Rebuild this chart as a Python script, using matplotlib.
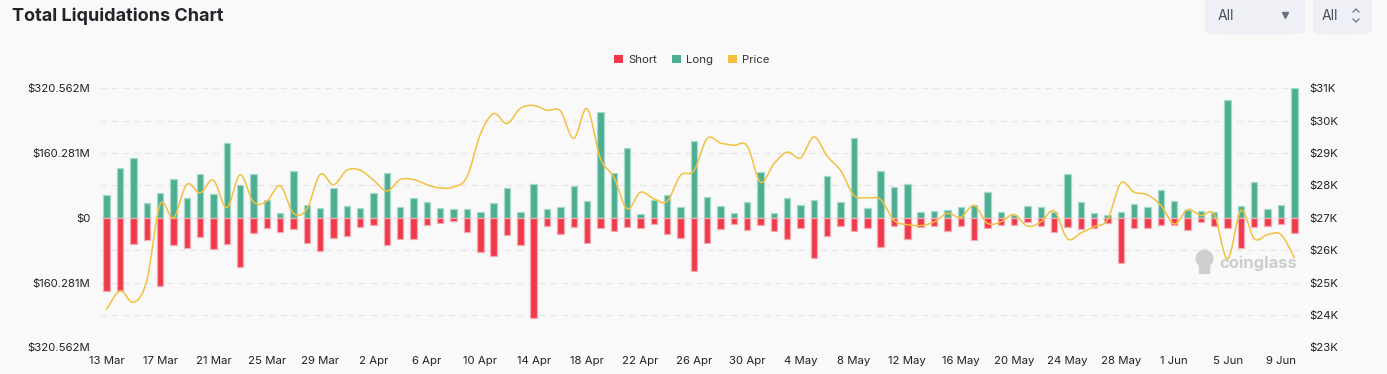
import numpy as np
import pandas as pd
import matplotlib

matplotlib.use("Agg")
import matplotlib.pyplot as plt
from matplotlib.patches import FancyBboxPatch, Patch
from matplotlib.lines import Line2D

plt.rcParams["font.family"] = ["Inter", "DejaVu Sans"]

# daily liquidations, 13 Mar -> 10 Jun (USD millions) and BTC price (USD thousands)
dates = pd.date_range("2023-03-13", "2023-06-10", freq="D")
long_m = [57, 123, 149, 37, 62, 95, 48, 109, 60, 184, 82, 109, 43, 13, 117,
          32, 24, 73, 30, 25, 61, 112, 26, 48, 40, 24, 21, 23, 15, 36,
          73, 14, 84, 22, 26, 79, 42, 262, 112, 173, 10, 43, 57, 26, 189,
          51, 28, 12, 39, 114, 12, 48, 31, 45, 104, 38, 197, 24, 117, 76,
          83, 15, 16, 20, 27, 32, 63, 15, 7, 29, 26, 15, 108, 40, 11,
          7, 14, 34, 26, 69, 41, 20, 17, 15, 292, 30, 88, 21, 31, 320.562]
short_m = [180, 180, 66, 55, 170, 68, 74, 48, 77, 65, 121, 38, 26, 35, 28,
           62, 81, 51, 45, 23, 18, 67, 52, 53, 17, 13, 8, 36, 85, 95,
           43, 68, 249, 20, 41, 23, 62, 26, 32, 23, 26, 16, 40, 50, 131,
           63, 27, 16, 29, 17, 32, 52, 25, 99, 44, 21, 32, 26, 72, 20,
           53, 22, 20, 32, 20, 55, 25, 18, 17, 11, 21, 36, 23, 27, 26,
           13, 111, 25, 26, 18, 18, 31, 10, 21, 25, 74, 23, 20, 15, 37]
price_k = [24.18, 24.75, 24.39, 25.05, 27.41, 26.99, 28.03, 27.77, 28.16, 27.31, 28.33, 27.49, 27.51, 27.99, 27.14,
           27.27, 28.34, 28.02, 28.47, 28.47, 28.16, 27.83, 28.18, 28.18, 28.02, 27.92, 27.95, 28.26, 29.58, 30.22,
           29.91, 30.38, 30.47, 30.32, 30.30, 29.45, 30.37, 28.83, 28.26, 27.28, 27.79, 27.59, 27.51, 28.31, 28.45,
           29.45, 29.31, 29.24, 29.22, 28.10, 28.67, 29.03, 28.85, 29.50, 28.90, 28.46, 27.69, 27.62, 27.56, 26.92,
           26.79, 26.76, 26.87, 27.14, 27.02, 27.38, 26.83, 26.87, 27.10, 26.74, 26.87, 27.21, 26.35, 26.53, 26.73,
           26.94, 28.07, 27.79, 27.71, 27.38, 26.81, 27.25, 27.07, 27.10, 25.73, 27.23, 26.35, 26.48, 26.48, 25.78]

SHORT = "#f03a4b"
LONG = "#4caf93"
PRICE = "#f4c03f"
BG = "#f9f9f9"

W, H = 1387, 374
YMAX = 320.562


def smooth(x, y, n=12):
    # cubic hermite through the daily points, only for drawing the curve
    x = np.asarray(x, float)
    y = np.asarray(y, float)
    m = np.gradient(y, x)
    xs, ys = [], []
    for i in range(len(x) - 1):
        t = np.linspace(0, 1, n, endpoint=False)
        h = x[i + 1] - x[i]
        h00 = 2 * t**3 - 3 * t**2 + 1
        h10 = t**3 - 2 * t**2 + t
        h01 = -2 * t**3 + 3 * t**2
        h11 = t**3 - t**2
        xs.append(x[i] + t * h)
        ys.append(h00 * y[i] + h10 * h * m[i] + h01 * y[i + 1] + h11 * h * m[i + 1])
    xs.append([x[-1]])
    ys.append([y[-1]])
    return np.concatenate(xs), np.concatenate(ys)


def fx(px):
    return px / W


def fy(py):
    return 1 - py / H


def money(v):
    v = abs(v)
    return "$0" if v < 1e-9 else f"${v:.3f}M"


fig = plt.figure(figsize=(W / 100, H / 100), dpi=100, facecolor=BG)
ax = fig.add_axes([fx(100), fy(347.3), fx(1301) - fx(100), fy(88.3) - fy(347.3)])
ax.set_facecolor(BG)

# watermark sits under the bars and the price line
tf = fig.transFigure
ax.add_line(Line2D([fx(1204)], [fy(258)], marker="o", markersize=12, color="#cfcfcf",
                   transform=tf, zorder=1, clip_on=False))
ax.add_line(Line2D([fx(1204)], [fy(268)], marker="s", markersize=7, color="#cfcfcf",
                   transform=tf, zorder=1, clip_on=False))
ax.text(fx(1219), fy(263), "coinglass", fontsize=12, fontweight="bold", color="#cdcdcd",
        va="center", ha="left", transform=tf, zorder=1)

x = np.arange(len(dates))
ax.bar(x, long_m, width=0.48, color=LONG, edgecolor="#a6d9c9", linewidth=0.9, zorder=2)
ax.bar(x, -np.asarray(short_m), width=0.48, color=SHORT, edgecolor="#f5a9b1", linewidth=0.9, zorder=2)
ax.set_xlim(-0.5, len(dates) - 0.5)
ax.set_ylim(-YMAX, YMAX)

yt = np.linspace(-YMAX, YMAX, 9)
ax.set_yticks(yt)
ax.set_yticklabels([money(v) if i % 2 == 0 else "" for i, v in enumerate(yt)])
for v in yt:
    ax.axhline(v, color="#e6e6e6", lw=0.9, ls=(0, (5, 4)), zorder=0)
ax.set_xticks(x[::4])
ax.set_xticklabels([f"{d.day} {d.strftime('%b')}" for d in dates[::4]])
ax.tick_params(axis="both", length=0, labelsize=8.2, labelcolor="#222222")
ax.tick_params(axis="y", pad=7)
ax.tick_params(axis="x", pad=6)
for s in ax.spines.values():
    s.set_visible(False)

ax2 = ax.twinx()
px, py = smooth(x, price_k)
ax2.plot(px, py, color=PRICE, lw=1.1, zorder=3)
ax2.set_ylim(23, 31)
ax2.set_yticks(np.arange(23, 32, 1))
ax2.set_yticklabels([f"${v}K" for v in range(23, 32)])
ax2.tick_params(axis="y", length=0, labelsize=8.2, labelcolor="#222222", pad=6)
for s in ax2.spines.values():
    s.set_visible(False)

# title
fig.text(fx(12), fy(16), "Total Liquidations Chart", fontsize=13, fontweight="bold",
         color="#23242a", va="center", ha="left")

# legend
handles = [Patch(facecolor=SHORT, label="Short"), Patch(facecolor=LONG, label="Long"),
           Patch(facecolor=PRICE, label="Price")]
fig.legend(handles=handles, loc="center", bbox_to_anchor=(fx(692), fy(60)), ncol=3,
           frameon=False, fontsize=8.2, handlelength=0.75, handleheight=0.75,
           handletextpad=0.5, columnspacing=1.3, labelcolor="#333333")

# dropdowns
for x0, x1 in [(1205, 1305), (1313, 1372)]:
    fig.add_artist(FancyBboxPatch((fx(x0), fy(35)), fx(x1 - x0), fy(0) - fy(35) + 0.05,
                                  boxstyle="round,pad=0,rounding_size=0.02",
                                  transform=tf, facecolor="#eef0f5",
                                  edgecolor="none", mutation_aspect=H / W * 2))
fig.text(fx(1218), fy(16), "All", fontsize=10, color="#4a5060", va="center")
fig.text(fx(1322), fy(16), "All", fontsize=10, color="#4a5060", va="center")
fig.add_artist(Line2D([fx(1285)], [fy(15)], marker="v", markersize=5, color="#6b7080",
                      transform=tf))
fig.add_artist(Line2D([fx(1353), fx(1356), fx(1359)], [fy(12), fy(9), fy(12)], color="#6b7080",
                      lw=0.9, transform=tf))
fig.add_artist(Line2D([fx(1353), fx(1356), fx(1359)], [fy(19), fy(22), fy(19)], color="#6b7080",
                      lw=0.9, transform=tf))

fig.savefig("out.png", dpi=100, facecolor=BG)
